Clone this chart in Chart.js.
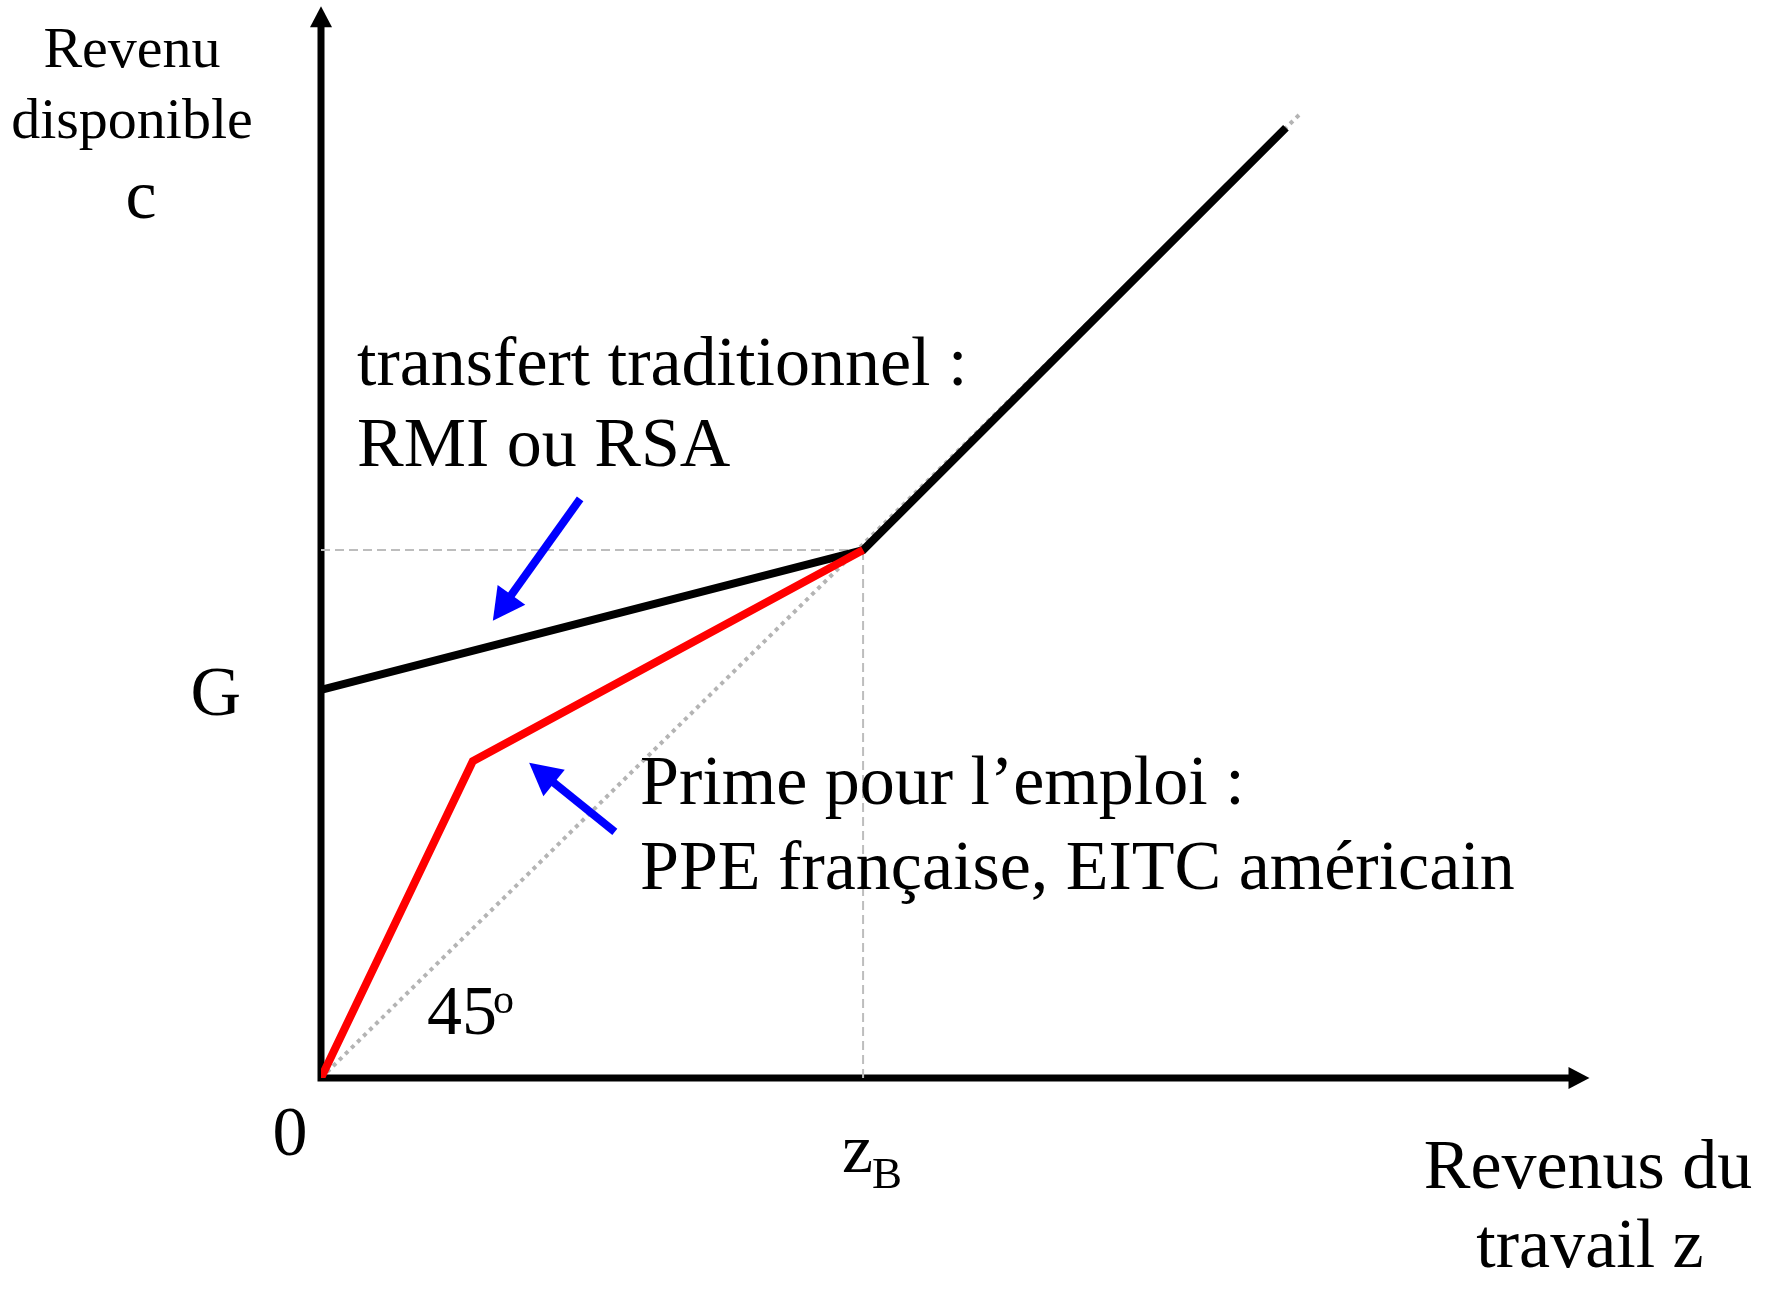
<!DOCTYPE html>
<html>
<head>
<meta charset="utf-8">
<script src="https://cdn.jsdelivr.net/npm/chart.js@4/dist/chart.umd.min.js"></script>
<style>
  html, body { margin: 0; padding: 0; background: #fff; }
  #wrap { width: 1775px; height: 1291px; }
</style>
</head>
<body>
<div id="wrap"><canvas id="chart" width="1775" height="1291"></canvas></div>
<script>
// data (x = revenus du travail z, y = revenu disponible c), zB = 100
const transfertLine = [{ x: 0, y: 73.5 }, { x: 100, y: 100 }, { x: 178, y: 180 }];
const primeLine = [{ x: 0, y: 0 }, { x: 28, y: 60 }, { x: 100, y: 100 }];
const line45 = [{ x: 0, y: 0 }, { x: 181, y: 183 }];
const guideH = [{ x: 0, y: 100 }, { x: 100, y: 100 }];
const guideV = [{ x: 100, y: 0 }, { x: 100, y: 100 }];
const xAxisEnd = 234;
const yAxisEnd = 203;
// blue pointer arrows: [tail, tip]
const arrows = [
  [{ x: 47.8, y: 109.7 }, { x: 31.7, y: 86.6 }],
  [{ x: 54.2, y: 46.6 }, { x: 38.4, y: 59.7 }]
];

const serif = '"Liberation Serif", "Times New Roman", serif';

function arrowHead(ctx, x1, y1, x2, y2, len, half) {
  const a = Math.atan2(y2 - y1, x2 - x1);
  ctx.beginPath();
  ctx.moveTo(x2, y2);
  ctx.lineTo(x2 - len * Math.cos(a) + half * Math.sin(a), y2 - len * Math.sin(a) - half * Math.cos(a));
  ctx.lineTo(x2 - len * Math.cos(a) - half * Math.sin(a), y2 - len * Math.sin(a) + half * Math.cos(a));
  ctx.closePath();
  ctx.fill();
}

const axesPlugin = {
  id: "axes",
  beforeDatasetsDraw(chart) {
    const { ctx, scales: { x, y } } = chart;
    const x0 = x.getPixelForValue(0), y0 = y.getPixelForValue(0);
    const xe = x.getPixelForValue(xAxisEnd), ye = y.getPixelForValue(yAxisEnd);
    ctx.save();
    ctx.strokeStyle = "#000";
    ctx.fillStyle = "#000";
    ctx.lineWidth = 7;
    ctx.beginPath();
    ctx.moveTo(x0, y0 + 3.5);
    ctx.lineTo(x0, ye + 15);
    ctx.moveTo(x0 - 3.5, y0);
    ctx.lineTo(xe - 15, y0);
    ctx.stroke();
    arrowHead(ctx, x0, y0, x0, ye, 21, 11);
    arrowHead(ctx, x0, y0, xe, y0, 21, 11);
    ctx.restore();
  },
  afterDatasetsDraw(chart) {
    const { ctx, scales: { x, y } } = chart;
    ctx.save();
    ctx.strokeStyle = "#0000ff";
    ctx.fillStyle = "#0000ff";
    ctx.lineWidth = 8;
    arrows.forEach(([t, h]) => {
      const tx = x.getPixelForValue(t.x), ty = y.getPixelForValue(t.y);
      const hx = x.getPixelForValue(h.x), hy = y.getPixelForValue(h.y);
      const a = Math.atan2(hy - ty, hx - tx);
      ctx.beginPath();
      ctx.moveTo(tx, ty);
      ctx.lineTo(hx - 22 * Math.cos(a), hy - 22 * Math.sin(a));
      ctx.stroke();
      arrowHead(ctx, tx, ty, hx, hy, 32, 17);
    });

    // texts
    ctx.fillStyle = "#000";
    ctx.textBaseline = "alphabetic";
    const txt = (s, px, py, size, align) => {
      ctx.font = size + "px " + serif;
      ctx.textAlign = align || "left";
      ctx.fillText(s, px, py);
    };
    txt("Revenu", 132, 67, 58, "center");
    txt("disponible", 132, 138, 58, "center");
    txt("c", 141, 218, 70, "center");
    txt("G", 241, y.getPixelForValue(73.5) + 25, 70, "right");
    txt("0", 290, 1155, 70, "center");
    const zx = x.getPixelForValue(100);
    txt("z", zx - 21, 1172, 70);
    txt("B", zx + 9, 1188, 45);
    txt("45", 427, 1034, 70);
    txt("o", 493, 1013, 42);
    txt("transfert traditionnel :", 357, 385, 70);
    txt("RMI ou RSA", 357, 466, 70);
    txt("Prime pour l\u2019emploi :", 640, 804, 70);
    txt("PPE fran\u00e7aise, EITC am\u00e9ricain", 640, 889, 70);
    txt("Revenus du", 1588, 1188, 70, "center");
    txt("travail z", 1590, 1267, 70, "center");
    ctx.restore();
  }
};

const ctx = document.getElementById("chart").getContext("2d");
new Chart(ctx, {
  type: "line",
  data: {
    datasets: [
      { data: primeLine, borderColor: "#ff0000", borderWidth: 8, order: 0 },
      { data: transfertLine, borderColor: "#000000", borderWidth: 8, order: 1 },
      { data: line45, borderColor: "#b4b4b4", borderWidth: 4, borderDash: [4, 4.5], order: 2 },
      { data: guideH, borderColor: "#bdbdbd", borderWidth: 2, borderDash: [9, 5], order: 3 },
      { data: guideV, borderColor: "#bdbdbd", borderWidth: 2, borderDash: [9, 5], order: 3 }
    ]
  },
  options: {
    responsive: false,
    animation: false,
    layout: { padding: { left: 321, right: 153, top: 1, bottom: 213 } },
    elements: {
      point: { radius: 0, hoverRadius: 0 },
      line: { tension: 0, fill: false, borderCapStyle: "butt", borderJoinStyle: "miter" }
    },
    plugins: { legend: { display: false }, tooltip: { enabled: false } },
    scales: {
      x: { type: "linear", min: 0, max: 240, display: false },
      y: { type: "linear", min: 0, max: 204, display: false }
    }
  },
  plugins: [axesPlugin]
});
</script>
</body>
</html>
